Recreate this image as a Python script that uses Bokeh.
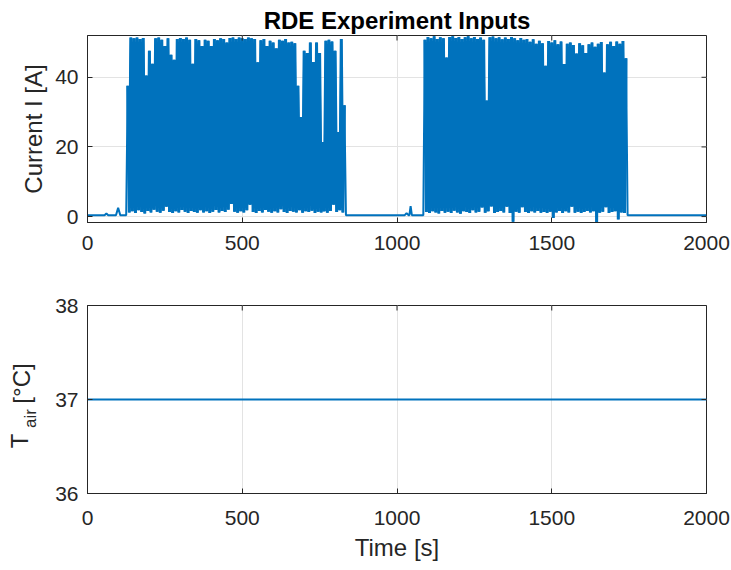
import numpy as np
from math import pi
from bokeh.plotting import figure
from bokeh.models import Range1d, FixedTicker
from bokeh.layouts import column, row
from bokeh.embed import file_html
from bokeh.resources import INLINE
from bokeh.core.properties import value

# ---------------- data ----------------
sample_step = 5  # s between samples inside a burst

# idle segments (time [s], current [A])
idle1_t = [0, 55, 61, 67, 92, 99, 106, 125]
idle1_i = [0.4, 0.4, 0.9, 0.4, 0.4, 2.5, 0.4, 0.4]
idle2_t = [835, 1025, 1031, 1037, 1040, 1044, 1048, 1085]
idle2_i = [0.4, 0.4, 1.0, 0.4, 0.4, 3.0, 0.4, 0.4]
idle3_t = [1745, 2000]
idle3_i = [0.4, 0.4]

burst1_start = 130
burst1_peaks = [37.6, 51.4, 51.2, 51.4, 51.0, 51.3, 40.5, 47.6, 43.9, 51.2,
                51.4, 50.8, 49.0, 51.2, 46.5, 45.0, 51.0, 51.3, 51.0, 51.4,
                50.8, 43.9, 51.0, 50.6, 49.0, 50.8, 50.5, 49.0, 51.0, 50.6,
                51.2, 51.0, 50.0, 51.3, 51.4, 51.0, 51.4, 51.2, 51.0, 51.4,
                51.2, 51.0, 44.3, 50.6, 51.0, 49.0, 50.5, 50.0, 48.3, 50.8,
                50.5, 51.0, 50.0, 50.2, 49.8, 37.6, 28.6, 47.6, 47.0, 50.0,
                44.4, 50.0, 47.0, 21.4, 50.5, 50.8, 50.3, 47.6, 24.3, 51.0, 32.0]
burst1_troughs = [1.2, 1.5, 1.0, 1.8, 1.3, 0.9, 1.6, 1.2, 2.0, 1.4,
                  1.1, 1.7, 2.8, 1.3, 1.0, 1.5, 1.2, 1.9, 1.4, 1.0,
                  1.6, 1.3, 1.1, 1.8, 1.2, 1.5, 1.0, 1.4, 1.9, 1.2,
                  1.6, 1.3, 2.0, 3.6, 1.4, 1.1, 1.5, 1.2, 1.8, 3.4,
                  1.3, 1.0, 1.6, 1.2, 1.9, 1.4, 1.1, 1.5, 1.2, 2.1,
                  1.3, 1.0, 1.6, 1.4, 1.2, 1.8, 1.1, 1.5, 1.3, 1.7,
                  1.0, 1.4, 1.2, 1.5, 1.1, 1.6, 3.4, 1.3, 1.8, 1.2]

burst2_start = 1090
burst2_peaks = [50.8, 51.6, 51.2, 51.8, 51.0, 51.5, 51.2, 45.7, 51.6, 51.8,
                51.3, 51.6, 51.0, 51.5, 51.8, 51.2, 51.6, 51.0, 51.4, 50.8,
                33.3, 51.5, 51.7, 51.2, 51.5, 50.9, 51.4, 51.0, 51.6, 51.2,
                50.6, 51.3, 50.8, 51.0, 50.2, 50.9, 49.6, 50.5, 49.8, 43.3,
                50.4, 50.0, 50.6, 49.5, 50.3, 43.8, 49.6, 50.0, 49.3, 46.8,
                49.8, 49.2, 47.0, 49.5, 50.0, 48.8, 49.6, 50.1, 41.4, 49.5,
                50.2, 49.0, 50.3, 49.6, 50.4, 45.5]
burst2_troughs = [1.3, 1.0, 1.5, 1.2, 0.9, 1.6, 1.1, 1.4, 1.0, 1.7,
                  1.2, 0.8, 1.5, 1.3, 1.0, 1.8, 1.2, 1.4, 2.6, 1.1,
                  1.5, 2.9, 1.0, 1.3, 1.6, 1.2, 2.8, 1.0, -1.5, 1.4,
                  1.1, 2.7, 1.3, 1.0, 1.5, 1.2, 1.6, 1.1, 1.3, 1.0,
                  1.4, -0.4, 1.2, 1.6, 1.0, 1.5, 1.2, 2.8, 1.1, 1.4,
                  1.0, 1.3, 1.6, 1.2, 1.5, -1.6, 1.1, 1.4, 2.7, 1.0,
                  1.3, 1.5, -0.8, 1.2, 1.0]

tair_t = [0, 2000]
tair_v = [37, 37]

x_ticks = [0, 500, 1000, 1500, 2000]
i_ticks = [0, 20, 40]
t_ticks = [36, 37, 38]
x_lim = (0, 2000)
i_lim = (-1.7, 52)
t_lim = (36, 38)


def burst(start, peaks, troughs):
    vals = []
    for k, pk in enumerate(peaks):
        vals.append(pk)
        if k < len(troughs):
            vals.append(troughs[k])
    times = [start + sample_step * n for n in range(len(vals))]
    return times, vals


b1_t, b1_i = burst(burst1_start, burst1_peaks, burst1_troughs)
b2_t, b2_i = burst(burst2_start, burst2_peaks, burst2_troughs)
time_s = idle1_t + b1_t + idle2_t + b2_t + idle3_t
current = idle1_i + b1_i + idle2_i + b2_i + idle3_i
burst_t = b1_t + [np.nan] + b2_t
burst_i = b1_i + [np.nan] + b2_i

# ---------------- style ----------------
FONT = "Liberation Sans"
DARK = "#262626"
BLUE = "#0072BD"
GRID = "#e3e3e3"
TICK_FS = "21px"
LABEL_FS = "24px"


def style(p, yticks, ylim, x_standoff):
    p.outline_line_color = DARK
    p.outline_line_width = 1
    p.background_fill_color = "white"
    p.border_fill_color = "white"
    for ax in (p.xaxis, p.yaxis):
        ax.axis_line_color = DARK
        ax.major_tick_line_color = DARK
        ax.minor_tick_line_color = None
        ax.major_tick_in = 5
        ax.major_tick_out = 0
        ax.major_label_text_font = FONT
        ax.major_label_text_font_size = TICK_FS
        ax.major_label_text_color = DARK
        ax.axis_label_text_font = FONT
        ax.axis_label_text_font_size = LABEL_FS
        ax.axis_label_text_font_style = "normal"
        ax.axis_label_text_color = DARK
    p.xaxis.ticker = FixedTicker(ticks=x_ticks)
    p.yaxis.ticker = FixedTicker(ticks=yticks)
    p.xaxis.major_label_standoff = x_standoff
    p.yaxis.major_label_standoff = 9
    p.xgrid.ticker = FixedTicker(ticks=x_ticks)
    p.ygrid.ticker = FixedTicker(ticks=yticks)
    p.grid.grid_line_color = GRID
    p.grid.grid_line_width = 1
    # mirrored inward ticks on the top and right edges (box on)
    p.ray(x=x_ticks, y=[ylim[1]] * len(x_ticks), length=5, length_units="screen",
          angle=-pi / 2, line_color=DARK, line_width=1)
    p.ray(x=[x_lim[1]] * len(yticks), y=yticks, length=5, length_units="screen",
          angle=pi, line_color=DARK, line_width=1)


# ---------------- top: current ----------------
p1 = figure(width=731, height=265, x_range=Range1d(*x_lim), y_range=Range1d(*i_lim),
            output_backend="svg", toolbar_location=None,
            min_border_left=87, min_border_right=25, min_border_top=35, min_border_bottom=43)
p1.title.text = "RDE Experiment Inputs"
p1.title.text_font = FONT
p1.title.text_font_size = "24px"
p1.title.text_font_style = "bold"
p1.title.text_color = "black"
p1.title.align = "center"
p1.title.standoff = 4
p1.line(time_s, current, line_color=BLUE, line_width=2)
p1.line(burst_t, burst_i, line_color=BLUE, line_width=3)
style(p1, i_ticks, i_lim, 13)
p1.yaxis[0].axis_label = "Current I [A]"
p1.yaxis[0].axis_label_standoff = 5

# ---------------- bottom: air temperature ----------------
p2 = figure(width=686, height=305, x_range=Range1d(*x_lim), y_range=Range1d(*t_lim),
            output_backend="svg", toolbar_location=None,
            min_border_left=42, min_border_right=25, min_border_top=40, min_border_bottom=77)
p2.line(tair_t, tair_v, line_color=BLUE, line_width=2)
style(p2, t_ticks, t_lim, 17)
p2.xaxis[0].axis_label = "Time [s]"
p2.xaxis[0].axis_label_standoff = 6

# y label of the bottom plot with subscript: T_air [°C]
# all pieces share one anchor; pixel offsets place them along the rotated baseline
lab_parts = ["T", "air", "[°C]"]
lab_dx = [-4.0, 7.0, -2.0]
lab_dy = [-17.0, -39.5, -74.5]
lab_size = ["24px", "17px", "24px"]
lf = figure(title=None, frame_width=45, frame_height=305,
            x_range=Range1d(0, 45), y_range=Range1d(0, 305),
            output_backend="svg", toolbar_location=None,
            min_border_left=0, min_border_right=0, min_border_top=0, min_border_bottom=0,
            x_axis_type=None, y_axis_type=None)
lf.outline_line_color = None
lf.grid.visible = False
for txt, dx, dy, fs in zip(lab_parts, lab_dx, lab_dy, lab_size):
    lf.text(x=[22.5], y=[152.5], text=[txt], x_offset=dx, y_offset=dy, angle=pi / 2,
            text_font=value(FONT), text_font_size=fs, text_color=DARK,
            text_align="center", text_baseline="middle")

layout = column(p1, row(lf, p2, spacing=0), spacing=0)
with open("out.html", "w") as f:
    f.write(file_html(layout, INLINE))
